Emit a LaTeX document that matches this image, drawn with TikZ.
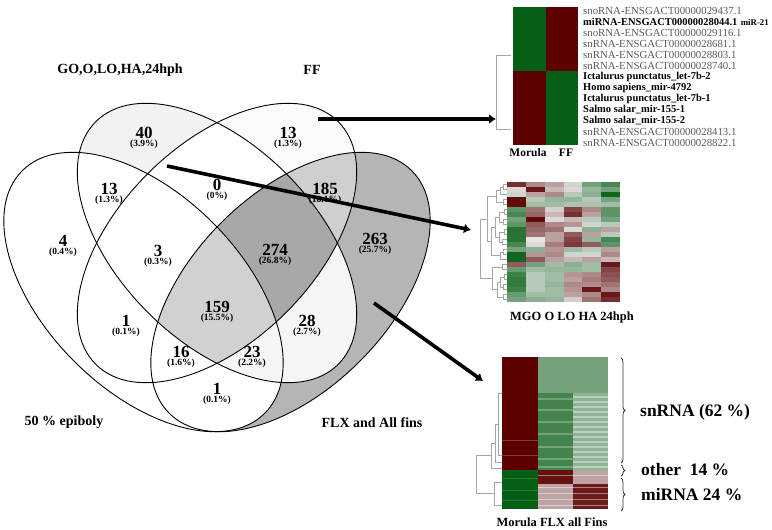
\documentclass[tikz,border=0pt]{standalone}
\usepackage{fontspec}
\setmainfont{Liberation Serif}
\usepackage{tikz}
\usetikzlibrary{arrows.meta,positioning,decorations.pathreplacing}

\definecolor{hmred}{RGB}{92,0,0}
\definecolor{hmgreen}{RGB}{5,95,20}
\definecolor{hmmid}{RGB}{228,228,228}

% the four sets of the Venn diagram
\def\ellA{[rotate around={-45:(143.5,292)}] (143.5,292) ellipse (171.5pt and 98pt)}
\def\ellB{[rotate around={-45:(217,243)}] (217,243) ellipse (171.5pt and 98pt)}
\def\ellC{[rotate around={45:(217,243)}] (217,243) ellipse (171.5pt and 98pt)}
\def\ellD{[rotate around={45:(290.5,292)}] (290.5,292) ellipse (171.5pt and 98pt)}
\newcommand{\pctfont}{\fontsize{9.5}{10}\selectfont\bfseries}

\begin{document}
\begin{tikzpicture}[x=1pt, y=-1pt]
    \tikzset{num/.style = {inner sep=0pt, align=center, font=\fontsize{17}{18}\selectfont\bfseries}}
    \tikzset{title/.style = {inner sep=0pt, font=\fontsize{14}{16}\selectfont\bfseries}}
    \tikzset{collab/.style = {inner sep=0pt, font=\fontsize{11.5}{12}\selectfont\bfseries}}
    \tikzset{rowlab/.style = {anchor=west, inner sep=0pt, text=black!65, font=\fontsize{10.8}{11}\selectfont}}
    \tikzset{rowbold/.style = {anchor=west, inner sep=0pt, font=\fontsize{10.5}{11}\selectfont\bfseries}}
    \tikzset{biglab/.style = {anchor=west, inner sep=0pt, font=\fontsize{17.5}{20}\selectfont\bfseries}}
    \tikzset{dendro/.style = {draw=black!35, line width=0.6pt}}
    \tikzset{brace/.style = {decorate, decoration={brace, amplitude=4pt}, line width=0.8pt, draw=black!80}}
    \tikzset{edge/.style = {-{Latex[length=7pt,width=10pt]}, line width=3.6pt}}

    \useasboundingbox (0,0) rectangle (772,530);

    % shading of the regions
    \fill[black!5] \ellB;
    \fill[black!2] \ellC;
    \begin{scope}
        \clip \ellB;
        \fill[white] \ellC;
    \end{scope}
    \fill[white] \ellA;
    \begin{scope}
        \clip \ellD;
        \fill[black!29] \ellD;
        \fill[black!19] \ellC;
        \fill[black!4] \ellB;
        \begin{scope}
            \clip \ellB;
            \fill[black!34] \ellC;
        \end{scope}
        \fill[white] \ellA;
        \begin{scope}
            \clip \ellA;
            \fill[black!4] \ellB;
            \clip \ellB;
            \fill[black!18] \ellC;
        \end{scope}
    \end{scope}
    \draw[line width=0.9pt] \ellA;
    \draw[line width=0.9pt] \ellB;
    \draw[line width=0.9pt] \ellC;
    \draw[line width=0.9pt] \ellD;

    % counts
    \foreach \x/\y/\n/\p [count=\i] in {144/133/40/3.9, 288/133/13/1.3, 109/189/13/1.3,
        217/185/0/0, 325/189/185/18.1, 63/241/4/0.4, 158/251/3/0.3, 275/250/274/26.8,
        375/239/263/25.7, 126/321/1/0.1, 217/307/159/15.5, 307/321/28/2.7,
        181/352/16/1.6, 252/352/23/2.2, 217/389/1/0.1}
        \node[num] (n\i) at (\x,\y+5) {\n\\[-10.2pt]{\pctfont(\p\%)}};

    \node[title] (tGO) at (120,70) {GO,O,LO,HA,24hph};
    \node[title] (tFF) at (312,70) {FF};
    \node[title] (tEpi) at (64,422) {50 \% epiboly};
    \node[title] (tFLX) at (372,423) {FLX and All fins};

    % heatmap Morula / FF
    \fill[hmgreen] (513,7) rectangle (546,71);
    \fill[hmred] (546,7) rectangle (578,71);
    \fill[hmred] (513,71) rectangle (546,145);
    \fill[hmgreen] (546,71) rectangle (578,145);
    \draw[dendro] (511,55) -| (496,129) -- (511,129);
    \node[collab] (cMor) at (528,153) {Morula};
    \node[collab] (cFF) at (566,153) {FF};

    \foreach \txt/\st [count=\i] in {snoRNA-ENSGACT00000029437.1/rowlab,
        miRNA-ENSGACT00000028044.1/rowbold, snoRNA-ENSGACT00000029116.1/rowlab,
        snRNA-ENSGACT00000028681.1/rowlab, snRNA-ENSGACT00000028803.1/rowlab,
        snRNA-ENSGACT00000028740.1/rowlab, Ictalurus punctatus\_let-7b-2/rowbold,
        Homo sapiens\_mir-4792/rowbold, Ictalurus punctatus\_let-7b-1/rowbold,
        Salmo salar\_mir-155-1/rowbold, Salmo salar\_mir-155-2/rowbold,
        snRNA-ENSGACT00000028413.1/rowlab, snRNA-ENSGACT00000028822.1/rowlab}
        \node[\st] (l\i) at (583,11*\i) {\txt};
    \node[rowbold, font=\fontsize{8.8}{9}\selectfont\bfseries, right=3pt of l2] (mir21) {miR-21};

    % heatmap MGO O LO HA 24hph
    \foreach \c/\vals in {
        0/{80,5,-10,95,95,-60,-70,-50,-60,-85,-85,-85,-70,-50,-95,-95,60,-55,-75,-80,-80,-75,-55,-50},
        1/{40,90,30,-20,-30,50,55,95,60,55,50,0,5,-40,35,60,-50,-30,-20,-20,-20,-20,-30,-40},
        2/{30,20,40,-35,-30,10,20,5,40,50,30,30,45,35,40,30,-30,-35,-30,-30,-35,-30,-30,-35},
        3/{-10,5,-20,-35,-25,70,80,20,35,5,60,70,75,-30,-10,20,-40,-35,35,30,40,35,30,10},
        4/{-50,-35,-40,-20,-25,40,30,-20,-10,-40,30,-35,60,-20,-10,30,-30,-30,40,45,40,90,40,50},
        5/{-70,-50,-95,-50,-30,-60,-60,-50,-20,30,-20,-70,-60,30,40,20,90,70,65,60,50,40,90,80}}
    {
        \foreach \v [count=\r from 0] in \vals {
            \pgfmathtruncatemacro{\p}{abs(\v)}
            \ifnum\v<0 \def\hue{hmgreen}\else\def\hue{hmred}\fi
            \fill[\hue!\p!hmmid] (507+18.85*\c,182+5*\r) rectangle ++(19,5.2);
        }
    }
    \foreach \x/\ya/\yb/\xa/\xb in {503/184.5/189.5/507/507, 500/187/194.5/503/507,
        503/199.5/204.5/507/507, 496/190.75/202/500/503, 504/209.5/214.5/507/507,
        503/219.5/224.5/507/507, 499/212/222/504/503, 504/229.5/234.5/507/507,
        502/239.5/244.5/507/507, 499/232/242/504/502, 495/217/237/499/499,
        503/249.5/254.5/507/507, 500/252/259.5/503/507, 491/227/255.75/495/500,
        487/196.4/241.4/496/491, 502/264.5/269.5/507/507, 504/274.5/279.5/507/507,
        503/284.5/289.5/507/507, 500/277/287/504/503, 503/294.5/299.5/507/507,
        497/282/297/500/503, 492/267/289.5/502/497, 480/218.9/278.25/487/492}
        \draw[dendro] (\xa,\ya) -- (\x,\ya) -- (\x,\yb) -- (\xb,\yb);
    \node[collab, font=\fontsize{12.5}{13}\selectfont\bfseries] (cMGO) at (572,317) {MGO O LO HA 24hph};

    % heatmap Morula / FLX / all fins
    \fill[hmred] (502,357) rectangle (538,470);
    \fill[hmred!75!hmmid] (502,440) rectangle (538,441.2);
    \fill[hmred!75!hmmid] (502,455) rectangle (538,456.2);
    \fill[hmgreen] (502,470) rectangle (538,509);
    \fill[hmgreen!50!hmmid] (538,357) rectangle (608,393);
    \fill[hmgreen!72!hmmid] (538,393) rectangle (573,470);
    \fill[hmgreen!38!hmmid] (573,393) rectangle (608,470);
    \fill[hmred!92!hmmid] (538,470) rectangle (573,483.5);
    \fill[hmred!28!hmmid] (538,483.5) rectangle (573,509);
    \fill[hmred!28!hmmid] (573,470) rectangle (608,483.5);
    \fill[hmred!88!hmmid] (573,483.5) rectangle (608,509);
    \foreach \y in {398,409,421,433,446,458,466}
        \fill[white, opacity=0.25] (538,\y) rectangle (573,\y+1.5);
    \foreach \y in {396,401,...,466}
        \fill[white, opacity=0.4] (573,\y) rectangle (608,\y+1.6);
    \foreach \y in {475,487,493,499,505}
        \fill[white, opacity=0.45] (538,\y) rectangle (608,\y+1.4);
    \foreach \y in {478,490,500}
        \fill[white, opacity=0.15] (502,\y) rectangle (538,\y+1.2);
    \foreach \x/\ya/\yb/\xa/\xb in {498/393/455/502/502, 495/424/462/498/502,
        491/443/468/495/502, 494/482/505/502/502, 476/455.5/493.5/491/494}
        \draw[dendro] (\xa,\ya) -- (\x,\ya) -- (\x,\yb) -- (\xb,\yb);
    \node[collab, font=\fontsize{12.5}{13}\selectfont\bfseries] (cFLX) at (552,522) {Morula FLX all Fins};

    \coordinate (snTop) at (621,358);
    \coordinate (snBot) at (621,463);
    \coordinate (otTop) at (621,465);
    \coordinate (otBot) at (621,476);
    \coordinate (miTop) at (621,478);
    \coordinate (miBot) at (621,511);
    \draw[brace] (snTop) -- (snBot);
    \draw[brace] (otTop) -- (otBot);
    \draw[brace] (miTop) -- (miBot);
    \node[biglab] (snRNA) at (640,412) {snRNA (62 \%)};
    \node[biglab] (other) at (641,470) {other\ \ 14 \%};
    \node[biglab] (miRNA) at (641,495) {miRNA 24 \%};

    % arrows from the Venn regions to the heatmaps
    \coordinate (fromFF) at (318,119);
    \coordinate (toFF) at (496,119);
    \coordinate (fromGO) at (167,166);
    \coordinate (toGO) at (471,230);
    \coordinate (fromFLX) at (374,303);
    \coordinate (toFLX) at (483,381);
    \draw[edge] (fromFF) -- (toFF);
    \draw[edge] (fromGO) -- (toGO);
    \draw[edge] (fromFLX) -- (toFLX);
\end{tikzpicture}
\end{document}
